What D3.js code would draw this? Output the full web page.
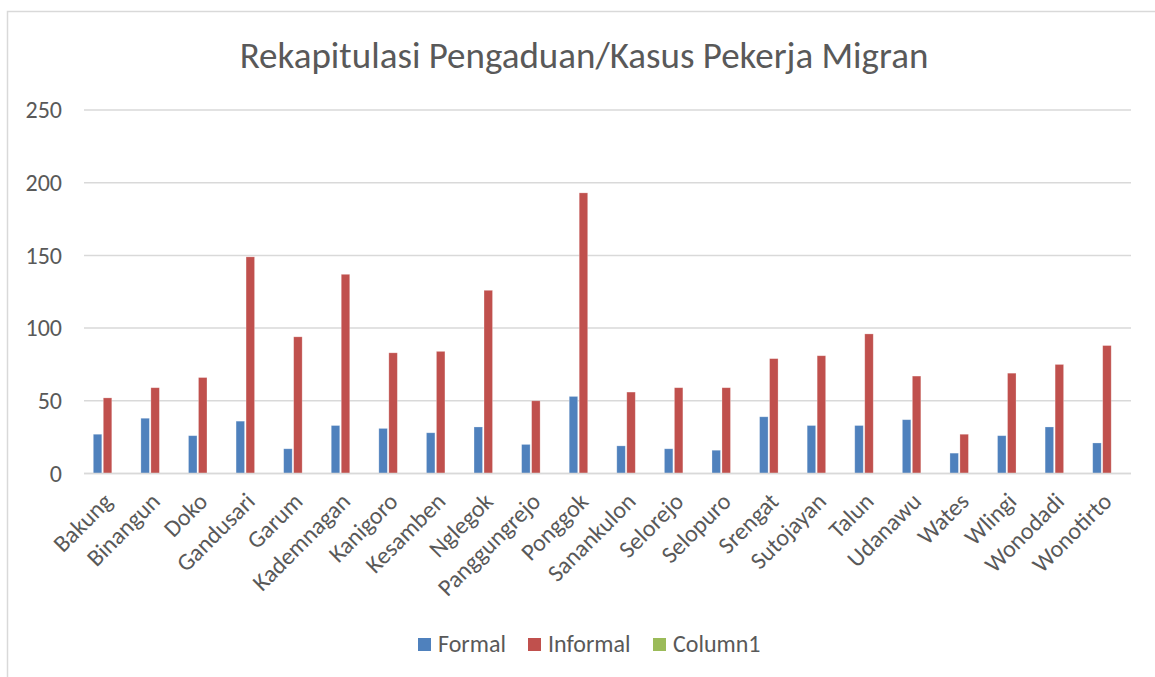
<!DOCTYPE html>
<html>
<head>
<meta charset="utf-8">
<script src="https://cdn.jsdelivr.net/npm/d3@7"></script>
<style>
  body { margin: 0; background: #fff; }
  svg { display: block; font-family: Calibri, Carlito, Lato, sans-serif; }
</style>
</head>
<body>
<svg width="1155" height="677"></svg>
<script>
// kecamatan (categories)
const categories = ["Bakung", "Binangun", "Doko", "Gandusari", "Garum", "Kademnagan",
  "Kanigoro", "Kesamben", "Nglegok", "Panggungrejo", "Ponggok", "Sanankulon",
  "Selorejo", "Selopuro", "Srengat", "Sutojayan", "Talun", "Udanawu", "Wates",
  "Wlingi", "Wonodadi", "Wonotirto"];
const formal = [27, 38, 26, 36, 17, 33, 31, 28, 32, 20, 53, 19, 17, 16, 39, 33, 33, 37, 14, 26, 32, 21];
const informal = [52, 59, 66, 149, 94, 137, 83, 84, 126, 50, 193, 56, 59, 59, 79, 81, 96, 67, 27, 69, 75, 88];
const column1 = categories.map(() => null); // empty series, still takes a slot
const seriesNames = ["Formal", "Informal", "Column1"];
const seriesColors = ["#4f81bd", "#c0504d", "#9bbb59"];
const yTicks = [0, 50, 100, 150, 200, 250];

const svg = d3.select("svg");
const textColor = "#595959";

// chart frame (only top and left edges show in the crop)
svg.append("path")
  .attr("d", "M7.5,677 V11.5 H1155")
  .attr("fill", "none")
  .attr("stroke", "#d9d9d9")
  .attr("stroke-width", 1.5);

// title
svg.append("text")
  .attr("x", 584)
  .attr("y", 68)
  .attr("text-anchor", "middle")
  .attr("font-size", 37)
  .attr("font-weight", 300)
  .attr("fill", textColor)
  .text("Rekapitulasi Pengaduan/Kasus Pekerja Migran");

const x0 = d3.scaleBand().domain(categories).range([84, 1131])
  .paddingInner(0.37).paddingOuter(0.185);
const x1 = d3.scaleBand().domain(seriesNames).range([0, x0.bandwidth()]).padding(0);
const y = d3.scaleLinear().domain([0, 250]).range([473.5, 110]);

// gridlines
svg.append("g")
  .selectAll("line")
  .data(yTicks)
  .enter().append("line")
  .attr("x1", 84).attr("x2", 1131)
  .attr("y1", d => y(d)).attr("y2", d => y(d))
  .attr("stroke", "#d9d9d9")
  .attr("stroke-width", 1.5);

// y axis labels
const yAxis = svg.append("g")
  .attr("transform", "translate(62,0)")
  .call(d3.axisLeft(y).tickValues(yTicks).tickSize(0).tickPadding(0));
yAxis.select(".domain").remove();
yAxis.selectAll("text")
  .attr("font-family", "Calibri, Carlito, Lato, sans-serif")
  .attr("font-size", 24)
  .attr("fill", textColor);

// bars
const rows = categories.map((c, i) => ({ cat: c, vals: [formal[i], informal[i], column1[i]] }));
const groups = svg.append("g")
  .selectAll("g")
  .data(rows)
  .enter().append("g")
  .attr("transform", d => "translate(" + x0(d.cat) + ",0)");

groups.selectAll("rect")
  .data(d => d.vals.map((v, k) => ({ name: seriesNames[k], value: v, color: seriesColors[k] }))
    .filter(d => d.value != null))
  .enter().append("rect")
  .attr("x", d => x1(d.name) + 0.5)
  .attr("y", d => y(d.value))
  .attr("width", x1.bandwidth() - 1.5)
  .attr("height", d => y(0) - y(d.value))
  .attr("fill", d => d.color)
  .attr("stroke", "#fff")
  .attr("stroke-opacity", 0.35)
  .attr("stroke-width", 0.75);

// x axis line on top of bars
svg.append("line")
  .attr("x1", 84).attr("x2", 1131)
  .attr("y1", y(0)).attr("y2", y(0))
  .attr("stroke", "#d9d9d9")
  .attr("stroke-width", 1.5);

// category labels, rotated
svg.append("g")
  .selectAll("text")
  .data(categories)
  .enter().append("text")
  .attr("transform", d => "translate(" + (x0(d) + x0.bandwidth() / 2) + ",497) rotate(-45)")
  .attr("text-anchor", "end")
  .attr("dy", "0.35em")
  .attr("font-size", 24)
  .attr("fill", textColor)
  .text(d => d);

// legend
const legend = svg.append("g")
  .selectAll("g")
  .data(seriesNames)
  .enter().append("g")
  .attr("transform", (d, i) => "translate(" + [418, 528, 653][i] + ",638)");
legend.append("rect")
  .attr("width", 13).attr("height", 13)
  .attr("fill", (d, i) => seriesColors[i]);
legend.append("text")
  .attr("x", 20)
  .attr("y", 14)
  .attr("font-size", 24)
  .attr("fill", textColor)
  .text(d => d);
</script>
</body>
</html>
